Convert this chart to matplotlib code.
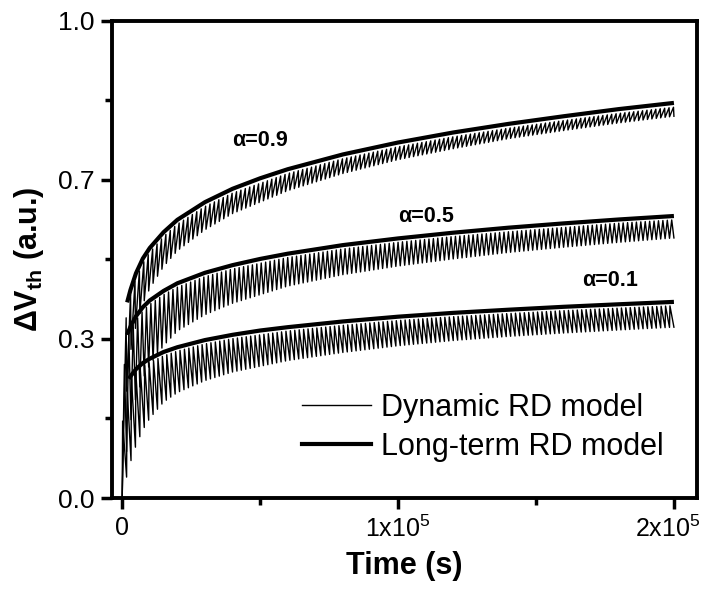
import numpy as np
import matplotlib
matplotlib.use("Agg")
import matplotlib.pyplot as plt
import matplotlib.transforms as mtransforms
from matplotlib.lines import Line2D

plt.rcParams['font.family'] = ['Liberation Sans', 'DejaVu Sans']
plt.rcParams['mathtext.fontset'] = 'custom'
plt.rcParams['mathtext.rm'] = 'Liberation Sans'
plt.rcParams['mathtext.bf'] = 'Liberation Sans:bold'

# ---- data ----
period = 1600.0          # stress/recovery cycle length (s)
t_end = 200000.0

# long-term RD model curves
t_lt_09 = [1800, 3000, 5000, 7500, 10000, 15000, 20000, 30000, 40000, 50000, 60000,
           80000, 100000, 120000, 140000, 160000, 180000, 200000]
lt_09 = [0.41, 0.436, 0.471, 0.502, 0.524, 0.557, 0.583, 0.620, 0.648, 0.670, 0.689,
         0.720, 0.745, 0.766, 0.784, 0.800, 0.815, 0.828]
t_lt_05 = t_lt_09
lt_05 = [0.342, 0.359, 0.381, 0.400, 0.414, 0.434, 0.450, 0.472, 0.488, 0.501, 0.512,
         0.530, 0.544, 0.556, 0.5665, 0.5755, 0.5837, 0.591]
t_lt_01 = [2500, 3000, 5000, 7500, 10000, 15000, 20000, 30000, 40000, 50000, 60000,
           80000, 100000, 120000, 140000, 160000, 180000, 200000]
lt_01 = [0.2496, 0.255, 0.270, 0.283, 0.292, 0.306, 0.316, 0.331, 0.342, 0.351, 0.358,
         0.370, 0.380, 0.388, 0.3946, 0.4007, 0.406, 0.411]

# dynamic RD model: peak and trough envelopes of the oscillation
t_env = [0, 1000, 2000, 3000, 5000, 7500, 10000, 15000, 20000, 30000, 40000, 60000,
         80000, 100000, 120000, 140000, 160000, 180000, 200000]
pk_09 = [0.30, 0.36, 0.40, 0.425, 0.46, 0.492, 0.515, 0.548, 0.574, 0.611, 0.639, 0.68,
         0.711, 0.736, 0.757, 0.775, 0.791, 0.806, 0.819]
tr_09 = [0.0, 0.17, 0.26, 0.306, 0.361, 0.407, 0.439, 0.485, 0.518, 0.562, 0.596, 0.644,
         0.68, 0.709, 0.732, 0.753, 0.77, 0.786, 0.80]
pk_05 = [0.20, 0.30, 0.334, 0.351, 0.373, 0.392, 0.406, 0.426, 0.442, 0.464, 0.48, 0.504,
         0.522, 0.536, 0.548, 0.558, 0.567, 0.576, 0.583]
tr_05 = [0.0, 0.06, 0.122, 0.159, 0.211, 0.25, 0.279, 0.319, 0.35, 0.384, 0.408, 0.444,
         0.468, 0.486, 0.501, 0.5145, 0.5255, 0.5357, 0.545]
pk_01 = [0.15, 0.22, 0.236, 0.247, 0.262, 0.275, 0.284, 0.298, 0.308, 0.323, 0.334, 0.35,
         0.362, 0.372, 0.38, 0.3866, 0.3927, 0.398, 0.403]
tr_01 = [0.0, 0.03, 0.053, 0.075, 0.11, 0.143, 0.167, 0.201, 0.221, 0.246, 0.264, 0.288,
         0.305, 0.319, 0.33, 0.3386, 0.3457, 0.352, 0.358]

label_text = ['α=0.9', 'α=0.5', 'α=0.1']
label_t = [50000, 110000, 177000]
label_v = [0.75, 0.59, 0.455]

x_ticks = [0, 100000, 200000]
x_ticklabels = ['0', '1x10$^5$', '2x10$^5$']
y_ticks = [0, 1/3, 2/3, 1.0]
y_ticklabels = ['0.0', '0.3', '0.7', '1.0']

# ---- figure ----
fig = plt.figure(figsize=(7.06, 5.95), dpi=100)
ax = fig.add_axes([0.159, 0.163, 0.828, 0.802])

def dynamic(alpha, pk, tr):
    n = int(round(t_end / period))
    ts, vs = [0.0], [0.0]
    for k in range(n):
        t0 = k * period
        tp = t0 + alpha * period
        t1 = (k + 1) * period
        ts += [tp, t1]
        vs += [np.interp(tp, t_env, pk), np.interp(t1, t_env, tr)]
    return np.array(ts), np.array(vs)

for a, pk, tr in [(0.9, pk_09, tr_09), (0.5, pk_05, tr_05), (0.1, pk_01, tr_01)]:
    ts, vs = dynamic(a, pk, tr)
    ax.plot(ts, vs, color='black', lw=1.0)

for t, lt in [(t_lt_09, lt_09), (t_lt_05, lt_05), (t_lt_01, lt_01)]:
    ax.plot(t, lt, color='black', lw=3.0, solid_capstyle='butt')

for s, t, v in zip(label_text, label_t, label_v):
    ax.text(t, v, s, fontsize=15.5, fontweight='bold', ha='center', va='center')

ax.set_xlim(-3600, 208300)
ax.set_ylim(0, 1.0)
ax.set_xticks(x_ticks)
ax.set_xticklabels(x_ticklabels)
ax.set_xticks([50000, 150000], minor=True)
ax.set_yticks(y_ticks)
ax.set_yticklabels(y_ticklabels)
ax.tick_params(which='major', direction='out', length=8, width=2.5, labelsize=19,
               top=False, right=False, pad=5)
ax.tick_params(axis='x', which='major', labelsize=18)
ax.set_yticks([1/6, 0.5, 5/6], minor=True)
ax.tick_params(which='minor', direction='out', length=5, width=2.5, top=False, right=False)
for sp in ax.spines.values():
    sp.set_linewidth(2.8)

# nudge the last x tick label so it stays inside the canvas
last = ax.get_xticklabels()[-1]
last.set_transform(last.get_transform() +
                   mtransforms.ScaledTranslation(-6 / 100, 0, fig.dpi_scale_trans))

ax.set_xlabel('Time (s)', fontsize=22, fontweight='bold', labelpad=6)
ax.set_ylabel('ΔV$_\\mathbf{th}$ (a.u.)', fontsize=22, fontweight='bold', labelpad=8)

handles = [Line2D([], [], color='black', lw=1.0), Line2D([], [], color='black', lw=3.0)]
ax.legend(handles, ['Dynamic RD model', 'Long-term RD model'], loc='upper left',
          bbox_to_anchor=(302 / 706, 1 - 393 / 595), bbox_transform=fig.transFigure,
          frameon=False, fontsize=22, handlelength=2.25, handletextpad=0.33,
          labelspacing=0.3, borderpad=0.0, borderaxespad=0.0)

fig.savefig('out.png', dpi=100)
